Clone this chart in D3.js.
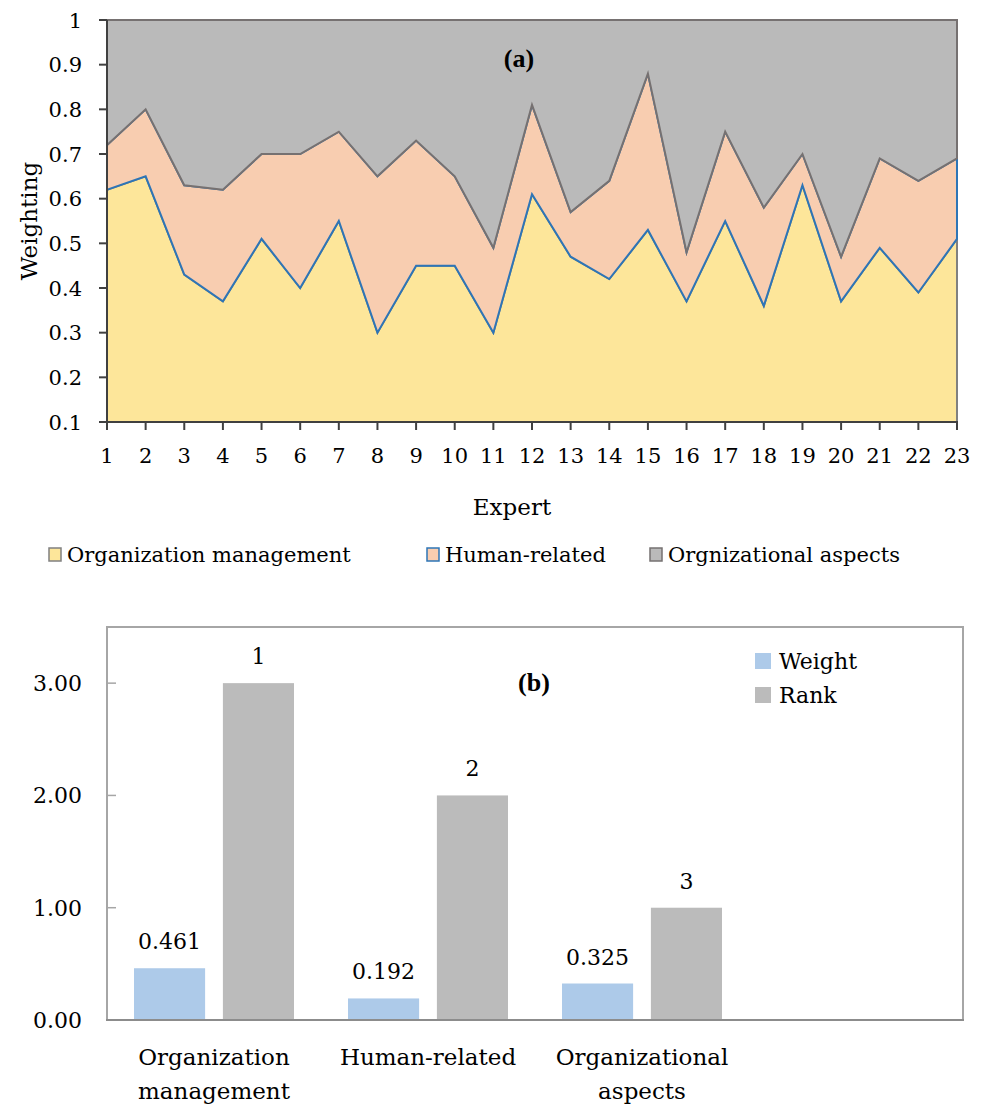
<!DOCTYPE html>
<html>
<head>
<meta charset="utf-8">
<script src="https://cdn.jsdelivr.net/npm/d3@7"></script>
<style>
  body { margin: 0; background: #fff; }
  text { font-family: "DejaVu Serif", serif; fill: #000; }
</style>
</head>
<body>
<div id="chart"></div>
<script>
// ---- data, chart (a) ----
const experts = d3.range(1, 24);
const orgManagement = [0.62, 0.65, 0.43, 0.37, 0.51, 0.40, 0.55, 0.30, 0.45, 0.45, 0.30, 0.61,
  0.47, 0.42, 0.53, 0.37, 0.55, 0.36, 0.63, 0.37, 0.49, 0.39, 0.51];
const humanRelated = [0.10, 0.15, 0.20, 0.25, 0.19, 0.30, 0.20, 0.35, 0.28, 0.20, 0.19, 0.20,
  0.10, 0.22, 0.35, 0.11, 0.20, 0.22, 0.07, 0.10, 0.20, 0.25, 0.18];
const orgAspects = [0.28, 0.20, 0.37, 0.38, 0.30, 0.30, 0.25, 0.35, 0.27, 0.35, 0.51, 0.19,
  0.43, 0.36, 0.12, 0.52, 0.25, 0.42, 0.30, 0.53, 0.31, 0.36, 0.31];
const weightTicks = [0.1, 0.2, 0.3, 0.4, 0.5, 0.6, 0.7, 0.8, 0.9, 1];
const seriesNames = ["Organization management", "Human-related", "Orgnizational aspects"];

// ---- data, chart (b) ----
const criteria = ["Organization management", "Human-related", "Organizational aspects"];
const criteriaLines = [["Organization", "management"], ["Human-related"], ["Organizational", "aspects"]];
const weights = [0.461, 0.192, 0.325];
const rankBars = [3, 2, 1];
const rankLabels = [1, 2, 3];
const barTicks = [0, 1, 2, 3];

const cfg = {
  width: 984,
  height: 1104,
  a: { left: 107, right: 957, top: 20, bottom: 422 },
  b: { left: 107, right: 963, top: 627, bottom: 1020 },
  colors: {
    org: "#FDE69A", human: "#F8CDB0", aspects: "#BABABA",
    orgLine: "#808080", humanLine: "#2E75B6", aspectsLine: "#767171",
    weight: "#ADCAE9", rank: "#BBBBBB"
  }
};

const svg = d3.select("#chart").append("svg")
  .attr("width", cfg.width)
  .attr("height", cfg.height);

svg.append("rect").attr("width", cfg.width).attr("height", cfg.height).attr("fill", "#fff");

// ================= chart (a) =================
const rows = experts.map((e, i) => ({
  expert: e, org: orgManagement[i], human: humanRelated[i], aspects: orgAspects[i]
}));
const keys = ["org", "human", "aspects"];
const stacked = d3.stack().keys(keys)(rows);

const xA = d3.scaleLinear().domain([1, 23]).range([cfg.a.left, cfg.a.right]);
const yA = d3.scaleLinear().domain([0.1, 1]).range([cfg.a.bottom, cfg.a.top]);

svg.append("clipPath").attr("id", "clipA")
  .append("rect")
  .attr("x", cfg.a.left).attr("y", cfg.a.top - 1.5)
  .attr("width", cfg.a.right - cfg.a.left + 1.5)
  .attr("height", cfg.a.bottom - cfg.a.top + 1.5);

const area = d3.area()
  .x(d => xA(d.data.expert))
  .y0(d => yA(d[0]))
  .y1(d => yA(d[1]));

const fills = [cfg.colors.org, cfg.colors.human, cfg.colors.aspects];
const strokes = [cfg.colors.orgLine, cfg.colors.humanLine, cfg.colors.aspectsLine];

svg.append("g").attr("clip-path", "url(#clipA)")
  .selectAll("path")
  .data(stacked)
  .enter()
  .append("path")
  .attr("d", area)
  .attr("fill", (d, i) => fills[i])
  .attr("stroke", (d, i) => strokes[i])
  .attr("stroke-width", 2)
  .attr("stroke-linejoin", "miter");

// axes
const axisA = svg.append("g").attr("stroke", "#404040").attr("stroke-width", 2);
axisA.append("line")
  .attr("x1", cfg.a.left).attr("x2", cfg.a.left)
  .attr("y1", cfg.a.top).attr("y2", cfg.a.bottom);
axisA.append("line")
  .attr("x1", cfg.a.left - 1).attr("x2", cfg.a.right + 1)
  .attr("y1", cfg.a.bottom).attr("y2", cfg.a.bottom);
axisA.selectAll(".yt").data(weightTicks).enter().append("line")
  .attr("x1", cfg.a.left - 8).attr("x2", cfg.a.left)
  .attr("y1", d => yA(d)).attr("y2", d => yA(d));
axisA.selectAll(".xt").data(experts).enter().append("line")
  .attr("x1", d => xA(d)).attr("x2", d => xA(d))
  .attr("y1", cfg.a.bottom).attr("y2", cfg.a.bottom + 8);

svg.append("g").selectAll("text").data(weightTicks).enter().append("text")
  .attr("x", 82).attr("y", d => yA(d))
  .attr("dy", "0.36em")
  .attr("text-anchor", "end")
  .attr("font-size", 21)
  .text(d => d3.format("~g")(d));

svg.append("g").selectAll("text").data(experts).enter().append("text")
  .attr("x", d => xA(d)).attr("y", 463)
  .attr("text-anchor", "middle")
  .attr("font-size", 21)
  .text(d => d);

svg.append("text")
  .attr("x", 512).attr("y", 515)
  .attr("text-anchor", "middle")
  .attr("font-size", 23)
  .text("Expert");

svg.append("text")
  .attr("transform", "translate(37,221) rotate(-90)")
  .attr("text-anchor", "middle")
  .attr("font-size", 23)
  .text("Weighting");

svg.append("text")
  .attr("x", 519).attr("y", 67)
  .attr("text-anchor", "middle")
  .attr("font-size", 26)
  .attr("font-weight", "bold")
  .style("font-family", "'Liberation Serif', serif")
  .text("(a)");

// legend (a)
const legA = [{ x: 49, tx: 67 }, { x: 427, tx: 445 }, { x: 650, tx: 668 }];
const legG = svg.append("g");
legA.forEach((p, i) => {
  legG.append("rect")
    .attr("x", p.x).attr("y", 548).attr("width", 12).attr("height", 13)
    .attr("fill", fills[i])
    .attr("stroke", strokes[i])
    .attr("stroke-width", 1.5);
  legG.append("text")
    .attr("x", p.tx).attr("y", 562)
    .attr("font-size", 21)
    .text(seriesNames[i]);
});

// ================= chart (b) =================
const xB = d3.scaleBand()
  .domain(criteria.concat([""]))
  .range([cfg.b.left, cfg.b.right]);
const xInner = d3.scaleBand()
  .domain(["Weight", "Rank"])
  .range([27, xB.bandwidth() - 27])
  .paddingInner(0.2);
const yB = d3.scaleLinear().domain([0, 3.5]).range([cfg.b.bottom, cfg.b.top]);

const barData = criteria.map((c, i) => ({
  cat: c, weight: weights[i], rank: rankBars[i], rankLabel: rankLabels[i]
}));

const groups = svg.append("g").selectAll("g").data(barData).enter().append("g")
  .attr("transform", d => `translate(${xB(d.cat)},0)`);

groups.append("rect")
  .attr("x", xInner("Weight"))
  .attr("y", d => yB(d.weight))
  .attr("width", xInner.bandwidth())
  .attr("height", d => yB(0) - yB(d.weight))
  .attr("fill", cfg.colors.weight);

groups.append("rect")
  .attr("x", xInner("Rank"))
  .attr("y", d => yB(d.rank))
  .attr("width", xInner.bandwidth())
  .attr("height", d => yB(0) - yB(d.rank))
  .attr("fill", cfg.colors.rank);

groups.append("text")
  .attr("x", xInner("Weight") + xInner.bandwidth() / 2)
  .attr("y", d => yB(d.weight) - 19)
  .attr("text-anchor", "middle")
  .attr("font-size", 22)
  .text(d => d3.format(".3f")(d.weight));

groups.append("text")
  .attr("x", xInner("Rank") + xInner.bandwidth() / 2)
  .attr("y", d => yB(d.rank) - 19)
  .attr("text-anchor", "middle")
  .attr("font-size", 22)
  .text(d => d.rankLabel);

// frame and axis
const frame = svg.append("g").attr("fill", "none");
frame.append("path")
  .attr("d", `M${cfg.b.left},${cfg.b.bottom}V${cfg.b.top}H${cfg.b.right}V${cfg.b.bottom}`)
  .attr("stroke", "#A6A6A6").attr("stroke-width", 2);
frame.append("line")
  .attr("x1", cfg.b.left - 1).attr("x2", cfg.b.right + 1)
  .attr("y1", cfg.b.bottom).attr("y2", cfg.b.bottom)
  .attr("stroke", "#8C8C8C").attr("stroke-width", 2);
frame.selectAll(".bt").data(barTicks.slice(1)).enter().append("line")
  .attr("x1", cfg.b.left).attr("x2", cfg.b.left + 9)
  .attr("y1", d => yB(d)).attr("y2", d => yB(d))
  .attr("stroke", "#A6A6A6").attr("stroke-width", 1.5);

svg.append("g").selectAll("text").data(barTicks).enter().append("text")
  .attr("x", 82).attr("y", d => yB(d))
  .attr("dy", "0.36em")
  .attr("text-anchor", "end")
  .attr("font-size", 22)
  .text(d => d3.format(".2f")(d));

// category labels
const catG = svg.append("g").selectAll("text").data(criteria).enter().append("text")
  .attr("x", d => xB(d) + xB.bandwidth() / 2)
  .attr("y", 1065)
  .attr("text-anchor", "middle")
  .attr("font-size", 23);
catG.selectAll("tspan")
  .data((d, i) => criteriaLines[i])
  .enter().append("tspan")
  .attr("x", function () { return d3.select(this.parentNode).attr("x"); })
  .attr("dy", (d, j) => j === 0 ? 0 : 34)
  .text(d => d);

svg.append("text")
  .attr("x", 534).attr("y", 691)
  .attr("text-anchor", "middle")
  .attr("font-size", 26)
  .attr("font-weight", "bold")
  .style("font-family", "'Liberation Serif', serif")
  .text("(b)");

// legend (b)
const legB = [{ name: "Weight", color: cfg.colors.weight, y: 653 }, { name: "Rank", color: cfg.colors.rank, y: 687 }];
legB.forEach(d => {
  svg.append("rect")
    .attr("x", 755).attr("y", d.y).attr("width", 16).attr("height", 16)
    .attr("fill", d.color);
  svg.append("text")
    .attr("x", 779).attr("y", d.y + 16)
    .attr("font-size", 22)
    .text(d.name);
});
</script>
</body>
</html>
